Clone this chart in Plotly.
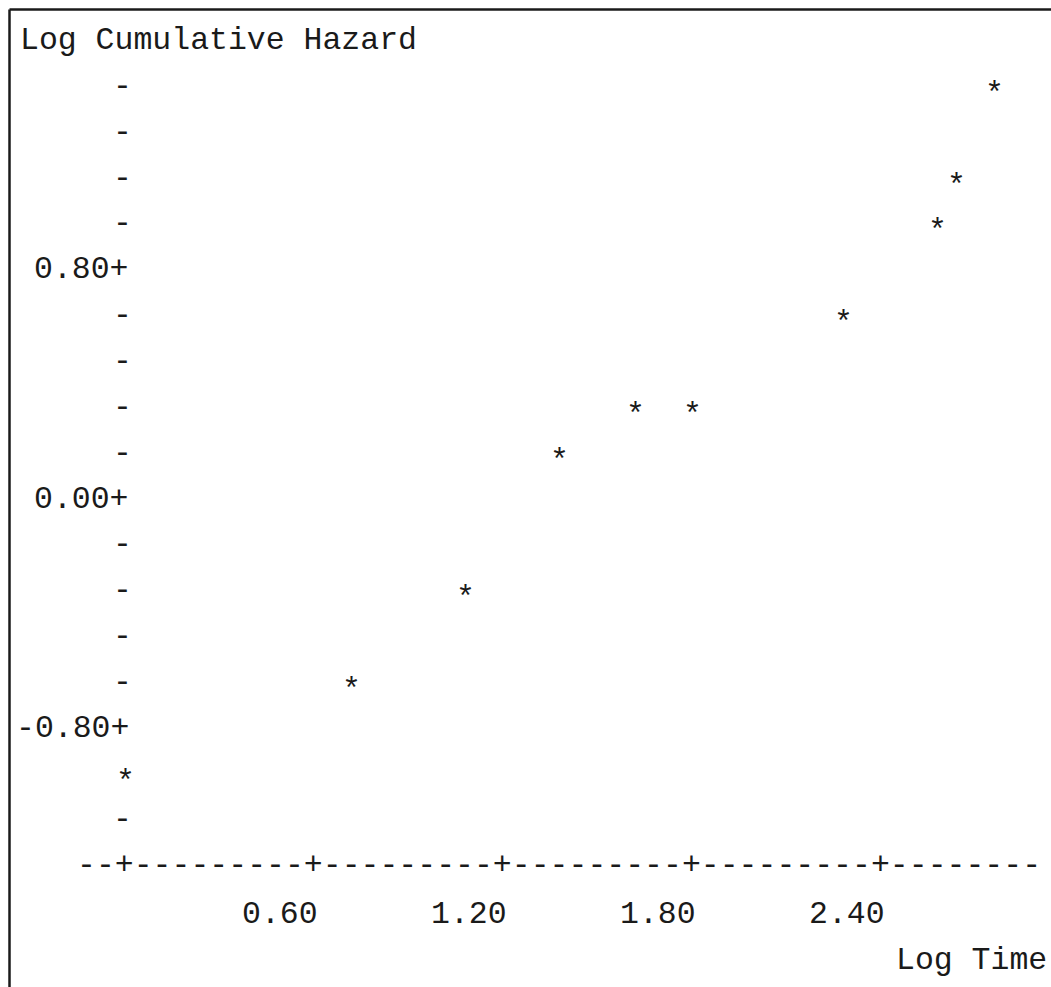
import plotly.graph_objects as go

# Log-log survival diagnostic: log(-log S(t)) against log(t)
log_time = [0.00, 0.72, 1.08, 1.38, 1.62, 1.80, 2.28, 2.58, 2.64, 2.76]
log_cum_hazard = [-0.96, -0.64, -0.32, 0.16, 0.32, 0.32, 0.64, 0.96, 1.12, 1.44]

# Line-printer grid: one column = 0.06 in x, one row = 0.16 in y
x_step = 0.06
y_step = 0.16
x_ticks = [0.00, 0.60, 1.20, 1.80, 2.40]
x_tick_labels = ["", "0.60", "1.20", "1.80", "2.40"]
y_major = [-0.80, 0.00, 0.80]
y_major_labels = ["-0.80+", "0.00+", "0.80+"]
y_rows = list(range(-7, 10))      # rows above the horizontal axis row
axis_row = -8

W, H = 1051, 987
px_per_x = 18.9 / x_step
px_per_y = 45.85 / y_step
x0_px, y0_px = 122.0, 499.0
x_range = [-x0_px / px_per_x, (W - x0_px) / px_per_x]
y_range = [-(H - y0_px) / px_per_y, y0_px / px_per_y]

FONT = "Liberation Mono, Courier New, monospace"
FS = 31.5
ink = "#1a1a1a"

fig = go.Figure()

# invisible trace so the axes keep their data scale
fig.add_trace(go.Scatter(
    x=log_time, y=log_cum_hazard, mode="markers",
    marker=dict(size=1, opacity=0), hoverinfo="skip", showlegend=False,
))

ann = []

def txt(x, y, s, xanchor="center", yshift=0, xshift=0):
    ann.append(dict(x=x, y=y, xref="x", yref="y", text=s, showarrow=False,
                    xanchor=xanchor, yanchor="middle", yshift=yshift, xshift=xshift,
                    font=dict(family=FONT, size=FS, color=ink)))

# data points as printer asterisks (glyph sits high, so nudge it onto the row)
for xv, yv in zip(log_time, log_cum_hazard):
    txt(xv, yv, "*", yshift=-8, xshift=3)

# vertical axis: major labels with '+' and minor '-' marks
occupied = {round(v, 2) for xv, v in zip(log_time, log_cum_hazard) if abs(xv) < 1e-9}
for r in y_rows:
    yv = round(r * y_step, 2)
    if any(abs(yv - m) < 1e-9 for m in y_major):
        lab = y_major_labels[[abs(yv - m) < 1e-9 for m in y_major].index(True)]
        txt(x_step / 2, yv, lab, xanchor="right")
    elif yv not in occupied:
        txt(0, yv, "-")

# horizontal axis row
axis_str = "--+" + "---------+" * 4 + "--------"
txt(-2.5 * x_step, axis_row * y_step, axis_str, xanchor="left")
for xv, lab in zip(x_ticks, x_tick_labels):
    if lab:
        txt(xv + x_step / 2, (axis_row - 1) * y_step, lab, xanchor="right", yshift=-3)

# axis titles
txt(-5.5 * x_step, 10 * y_step, "Log Cumulative Hazard", xanchor="left")
txt((1049 - x0_px) / px_per_x, (axis_row - 2) * y_step, "Log Time", xanchor="right", yshift=-3)

fig.update_layout(
    width=W, height=H,
    margin=dict(l=0, r=0, t=0, b=0),
    paper_bgcolor="white", plot_bgcolor="white",
    xaxis=dict(range=x_range, visible=False, fixedrange=True),
    yaxis=dict(range=y_range, visible=False, fixedrange=True),
    annotations=ann,
    shapes=[
        dict(type="line", xref="paper", yref="paper", x0=9.5 / W, x1=1, y0=1 - 9.5 / H, y1=1 - 9.5 / H,
             line=dict(color=ink, width=2.5)),
        dict(type="line", xref="paper", yref="paper", x0=9.5 / W, x1=9.5 / W, y0=0, y1=1 - 9.5 / H,
             line=dict(color=ink, width=2.5)),
    ],
)

fig.write_html("out.html")
